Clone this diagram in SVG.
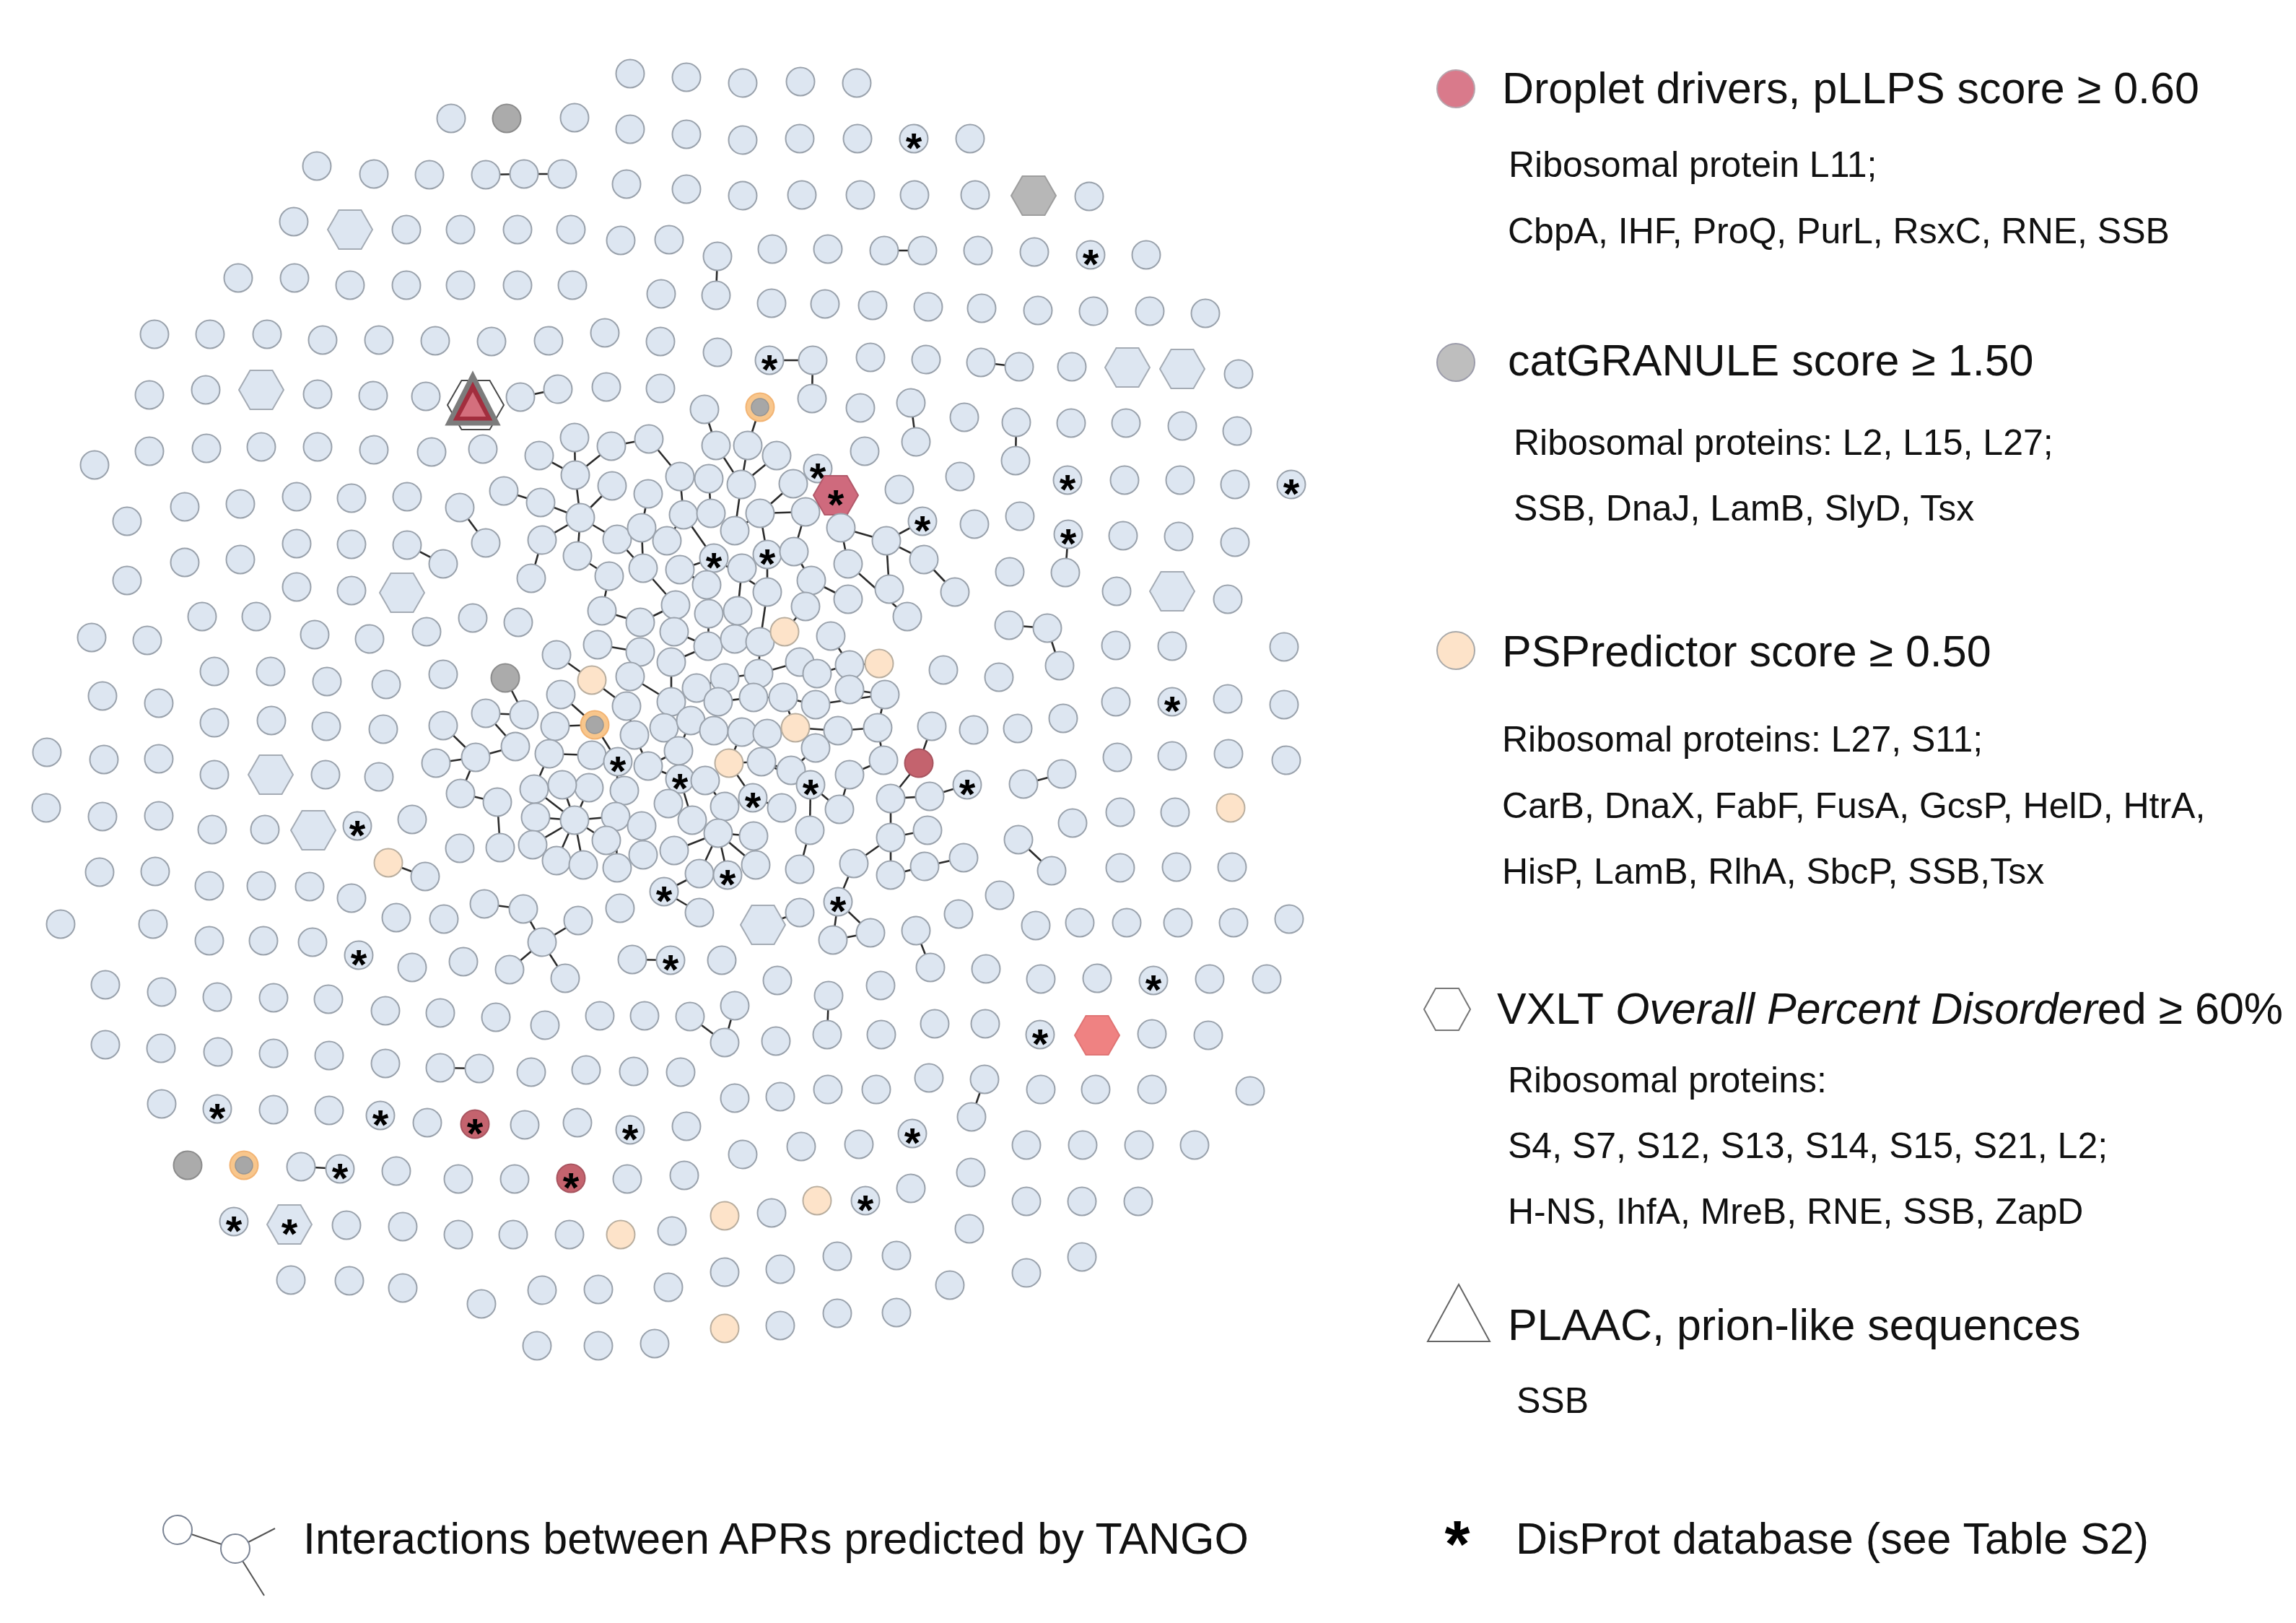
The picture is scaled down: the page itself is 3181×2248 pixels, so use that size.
<svg xmlns="http://www.w3.org/2000/svg" xmlns:xlink="http://www.w3.org/1999/xlink" width="3181" height="2248" viewBox="0 0 3181 2248">
<style>
.b{fill:#DDE6F1;stroke:#9AA2AC;stroke-width:2}
.g{fill:#ABABAB;stroke:#8C8C8C;stroke-width:2}
.o{fill:#FDE3C9;stroke:#B9AE9F;stroke-width:2}
.oo{fill:#F8C68C;stroke:#F2B474;stroke-width:2}
.oi{fill:#A7A7A7;stroke:#959595;stroke-width:1.5}
.r{fill:#C4636E;stroke:#A85560;stroke-width:2}
.hb{fill:#DDE6F1;stroke:#A4ABB4;stroke-width:2}
.gh{fill:#B7B7B7;stroke:#9E9E9E;stroke-width:2}
.rh{fill:#CF6A7D;stroke:#B25A6B;stroke-width:2}
.sh{fill:#EF8282;stroke:#E07575;stroke-width:2}
.a{font-family:"Liberation Sans",Arial,sans-serif;font-weight:bold;font-size:58px;fill:#000;text-anchor:middle;transform:translateY(6px)}
.t{font-family:"Liberation Sans",Arial,sans-serif;font-size:61px;fill:#111}
.s{font-family:"Liberation Sans",Arial,sans-serif;font-size:50px;fill:#111}
#connectors line{stroke:#2B2B2B;stroke-width:2.6}
</style>
<defs>
<circle id="c" cx="0" cy="0" r="19.5"/>
<polygon id="h" points="-31,0 -15.5,-27 15.5,-27 31,0 15.5,27 -15.5,27"/>
</defs>
<rect width="3181" height="2248" fill="#fff"/>
<g id="connectors">
<line x1="673" y1="242" x2="726" y2="241"/><line x1="726" y1="241" x2="779" y2="241"/>
<line x1="994" y1="355" x2="992" y2="409"/><line x1="1225" y1="347" x2="1278" y2="347"/>
<line x1="1066" y1="499" x2="1126" y2="499"/><line x1="1126" y1="499" x2="1125" y2="552"/>
<line x1="1359" y1="502" x2="1412" y2="508"/><line x1="721" y1="550" x2="773" y2="539"/>
<line x1="976" y1="567" x2="992" y2="617"/><line x1="1053" y1="564" x2="1036" y2="617"/>
<line x1="1262" y1="558" x2="1269" y2="612"/><line x1="1408" y1="585" x2="1407" y2="638"/>
<line x1="564" y1="755" x2="614" y2="781"/><line x1="538" y1="1195" x2="589" y2="1214"/>
<line x1="610" y1="1479" x2="664" y2="1480"/><line x1="417" y1="1616" x2="471" y2="1619"/>
<line x1="751" y1="1305" x2="725" y2="1259"/><line x1="751" y1="1305" x2="801" y2="1275"/>
<line x1="751" y1="1305" x2="706" y2="1343"/><line x1="751" y1="1305" x2="783" y2="1355"/>
<line x1="671" y1="1252" x2="725" y2="1259"/>
<line x1="876" y1="1329" x2="929" y2="1330"/><line x1="1148" y1="1379" x2="1146" y2="1433"/>
<line x1="956" y1="1408" x2="1004" y2="1444"/><line x1="1004" y1="1444" x2="1018" y2="1393"/>
<line x1="1057" y1="1281" x2="1108" y2="1264"/><line x1="1161" y1="1249" x2="1154" y2="1302"/>
<line x1="1154" y1="1302" x2="1206" y2="1292"/><line x1="1161" y1="1249" x2="1206" y2="1292"/>
<line x1="1269" y1="1289" x2="1289" y2="1340"/><line x1="1364" y1="1495" x2="1346" y2="1547"/>
<line x1="1280" y1="775" x2="1323" y2="820"/><line x1="1280" y1="775" x2="1228" y2="749"/>
<line x1="1278" y1="722" x2="1228" y2="749"/><line x1="1480" y1="740" x2="1476" y2="793"/>
<line x1="1398" y1="866" x2="1451" y2="870"/><line x1="1451" y1="870" x2="1468" y2="922"/>
<line x1="1291" y1="1006" x2="1273" y2="1057"/><line x1="1273" y1="1057" x2="1234" y2="1106"/>
<line x1="1234" y1="1106" x2="1288" y2="1103"/><line x1="1288" y1="1103" x2="1340" y2="1087"/>
<line x1="1418" y1="1086" x2="1471" y2="1072"/><line x1="1411" y1="1163" x2="1457" y2="1206"/>
<line x1="1234" y1="1160" x2="1285" y2="1150"/><line x1="1234" y1="1212" x2="1281" y2="1200"/>
<line x1="1281" y1="1200" x2="1335" y2="1188"/><line x1="614" y1="1005" x2="659" y2="1049"/>
<line x1="604" y1="1057" x2="659" y2="1049"/><line x1="637" y1="703" x2="673" y2="752"/>
<line x1="992" y1="617" x2="1027" y2="671"/><line x1="1036" y1="617" x2="1027" y2="671"/>
<line x1="1076" y1="631" x2="1027" y2="671"/><line x1="796" y1="606" x2="797" y2="658"/>
<line x1="747" y1="631" x2="797" y2="658"/><line x1="847" y1="618" x2="797" y2="658"/>
<line x1="847" y1="618" x2="899" y2="608"/><line x1="899" y1="608" x2="942" y2="660"/>
<line x1="1133" y1="649" x2="1099" y2="670"/>
<line x1="698" y1="680" x2="749" y2="696"/><line x1="749" y1="696" x2="804" y2="717"/>
<line x1="804" y1="717" x2="797" y2="658"/><line x1="804" y1="717" x2="848" y2="673"/>
<line x1="804" y1="717" x2="751" y2="748"/><line x1="804" y1="717" x2="800" y2="770"/>
<line x1="804" y1="717" x2="855" y2="747"/><line x1="751" y1="748" x2="736" y2="801"/>
<line x1="855" y1="747" x2="891" y2="787"/><line x1="889" y1="731" x2="898" y2="684"/>
<line x1="889" y1="731" x2="891" y2="787"/><line x1="924" y1="749" x2="947" y2="713"/>
<line x1="947" y1="713" x2="942" y2="660"/><line x1="985" y1="711" x2="982" y2="663"/>
<line x1="947" y1="713" x2="989" y2="773"/><line x1="1018" y1="735" x2="1027" y2="671"/>
<line x1="1053" y1="711" x2="1099" y2="670"/><line x1="1053" y1="711" x2="1116" y2="709"/>
<line x1="1116" y1="709" x2="1158" y2="686"/><line x1="1158" y1="686" x2="1165" y2="731"/>
<line x1="1165" y1="731" x2="1228" y2="749"/><line x1="1165" y1="731" x2="1175" y2="781"/>
<line x1="1228" y1="749" x2="1232" y2="816"/><line x1="989" y1="773" x2="1063" y2="820"/>
<line x1="1063" y1="768" x2="1063" y2="820"/><line x1="1100" y1="764" x2="1124" y2="804"/>
<line x1="1124" y1="804" x2="1175" y2="830"/><line x1="1063" y1="820" x2="1053" y2="889"/>
<line x1="891" y1="787" x2="936" y2="838"/><line x1="942" y1="789" x2="989" y2="773"/>
<line x1="936" y1="838" x2="887" y2="862"/><line x1="834" y1="846" x2="887" y2="862"/>
<line x1="934" y1="875" x2="981" y2="895"/><line x1="771" y1="907" x2="820" y2="942"/>
<line x1="820" y1="942" x2="868" y2="978"/><line x1="700" y1="939" x2="726" y2="990"/>
<line x1="673" y1="988" x2="726" y2="990"/><line x1="673" y1="988" x2="714" y2="1034"/>
<line x1="769" y1="1006" x2="824" y2="1004"/><line x1="777" y1="962" x2="824" y2="1004"/>
<line x1="824" y1="1004" x2="856" y2="1055"/><line x1="761" y1="1044" x2="820" y2="1046"/>
<line x1="659" y1="1049" x2="714" y2="1034"/><line x1="659" y1="1049" x2="638" y2="1099"/>
<line x1="856" y1="1055" x2="853" y2="1131"/>
<line x1="796" y1="1136" x2="779" y2="1087"/><line x1="796" y1="1136" x2="740" y2="1093"/>
<line x1="796" y1="1136" x2="742" y2="1132"/><line x1="796" y1="1136" x2="738" y2="1170"/>
<line x1="796" y1="1136" x2="771" y2="1192"/><line x1="796" y1="1136" x2="808" y2="1198"/>
<line x1="796" y1="1136" x2="853" y2="1131"/><line x1="796" y1="1136" x2="840" y2="1164"/>
<line x1="796" y1="1136" x2="816" y2="1091"/>
<line x1="853" y1="1131" x2="855" y2="1202"/><line x1="853" y1="1131" x2="889" y2="1144"/>
<line x1="898" y1="1061" x2="942" y2="1079"/><line x1="942" y1="1079" x2="959" y2="1136"/>
<line x1="995" y1="1154" x2="926" y2="1113"/><line x1="995" y1="1154" x2="1004" y2="1117"/>
<line x1="995" y1="1154" x2="959" y2="1136"/><line x1="995" y1="1154" x2="969" y2="1210"/>
<line x1="995" y1="1154" x2="1008" y2="1212"/><line x1="995" y1="1154" x2="1047" y2="1198"/>
<line x1="995" y1="1154" x2="1044" y2="1158"/><line x1="995" y1="1154" x2="934" y2="1178"/>
<line x1="1043" y1="1105" x2="1083" y2="1119"/><line x1="1123" y1="1087" x2="1163" y2="1121"/>
<line x1="1123" y1="1087" x2="1122" y2="1150"/><line x1="1123" y1="1087" x2="1055" y2="1055"/>
<line x1="1234" y1="1106" x2="1234" y2="1160"/><line x1="1234" y1="1160" x2="1234" y2="1212"/>
<line x1="1234" y1="1160" x2="1183" y2="1196"/><line x1="1183" y1="1196" x2="1161" y2="1249"/>
<line x1="1122" y1="1150" x2="1108" y2="1204"/><line x1="920" y1="1235" x2="969" y2="1210"/>
<line x1="920" y1="1235" x2="969" y2="1264"/>
<line x1="873" y1="937" x2="930" y2="972"/><line x1="930" y1="972" x2="965" y2="953"/>
<line x1="965" y1="953" x2="1004" y2="939"/><line x1="1004" y1="939" x2="1051" y2="933"/>
<line x1="930" y1="917" x2="930" y2="972"/><line x1="981" y1="895" x2="930" y2="917"/>
<line x1="982" y1="850" x2="981" y2="895"/><line x1="1022" y1="846" x2="1018" y2="885"/>
<line x1="1018" y1="885" x2="1053" y2="889"/><line x1="1053" y1="889" x2="1051" y2="933"/>
<line x1="1051" y1="933" x2="1108" y2="917"/><line x1="1132" y1="933" x2="1177" y2="921"/>
<line x1="1177" y1="921" x2="1177" y2="955"/><line x1="1177" y1="955" x2="1226" y2="962"/>
<line x1="1226" y1="962" x2="1216" y2="1008"/><line x1="1177" y1="921" x2="1218" y2="919"/>
<line x1="1151" y1="881" x2="1177" y2="921"/><line x1="1130" y1="976" x2="1085" y2="966"/>
<line x1="1085" y1="966" x2="1044" y2="966"/><line x1="1044" y1="966" x2="995" y2="972"/>
<line x1="1051" y1="933" x2="1044" y2="966"/><line x1="1085" y1="966" x2="1102" y2="1008"/>
<line x1="1102" y1="1008" x2="1161" y2="1012"/><line x1="1161" y1="1012" x2="1130" y2="1036"/>
<line x1="1130" y1="1036" x2="1096" y2="1067"/><line x1="989" y1="1012" x2="1028" y2="1014"/>
<line x1="1028" y1="1014" x2="1063" y2="1016"/><line x1="957" y1="998" x2="989" y2="1012"/>
<line x1="920" y1="1008" x2="957" y2="998"/><line x1="868" y1="978" x2="879" y2="1018"/>
<line x1="879" y1="1018" x2="898" y2="1061"/><line x1="898" y1="1061" x2="940" y2="1040"/>
<line x1="940" y1="1040" x2="957" y2="998"/><line x1="942" y1="1079" x2="977" y2="1081"/>
<line x1="977" y1="1081" x2="1004" y2="1117"/><line x1="1010" y1="1057" x2="1055" y2="1055"/>
<line x1="1055" y1="1055" x2="1096" y2="1067"/><line x1="1028" y1="1014" x2="1010" y2="1057"/>
<line x1="1010" y1="1057" x2="1043" y2="1105"/><line x1="1043" y1="1105" x2="1004" y2="1117"/>
<line x1="1116" y1="709" x2="1100" y2="764"/><line x1="1053" y1="711" x2="1063" y2="768"/>
<line x1="1116" y1="840" x2="1087" y2="875"/><line x1="1161" y1="1012" x2="1216" y2="1008"/>
<line x1="1216" y1="1008" x2="1224" y2="1053"/><line x1="1177" y1="1073" x2="1224" y2="1053"/>
<line x1="1177" y1="1073" x2="1163" y2="1121"/><line x1="800" y1="770" x2="844" y2="798"/>
<line x1="834" y1="846" x2="844" y2="798"/><line x1="828" y1="893" x2="887" y2="903"/>
<line x1="887" y1="903" x2="873" y2="937"/><line x1="979" y1="810" x2="942" y2="789"/>
<line x1="1018" y1="735" x2="1053" y2="711"/><line x1="1130" y1="976" x2="1226" y2="962"/>
<line x1="1175" y1="781" x2="1257" y2="854"/><line x1="1028" y1="787" x2="1022" y2="846"/>
<line x1="689" y1="1111" x2="693" y2="1174"/><line x1="638" y1="1099" x2="689" y2="1111"/>
<line x1="740" y1="1093" x2="761" y2="1044"/><line x1="1044" y1="1158" x2="1047" y2="1198"/>
</g>
<g id="nodes">
<g id="n1"><use href="#c" class="b" x="873" y="102"/></g>
<g id="n2"><use href="#c" class="b" x="951" y="107"/></g>
<g id="n3"><use href="#c" class="b" x="1029" y="115"/></g>
<g id="n4"><use href="#c" class="b" x="1109" y="113"/></g>
<g id="n5"><use href="#c" class="b" x="1187" y="115"/></g>
<g id="n6"><use href="#c" class="b" x="625" y="164"/></g>
<g id="n7"><use href="#c" class="g" x="702" y="164"/></g>
<g id="n8"><use href="#c" class="b" x="796" y="163"/></g>
<g id="n9"><use href="#c" class="b" x="873" y="179"/></g>
<g id="n10"><use href="#c" class="b" x="951" y="186"/></g>
<g id="n11"><use href="#c" class="b" x="1029" y="194"/></g>
<g id="n12"><use href="#c" class="b" x="1108" y="192"/></g>
<g id="n13"><use href="#c" class="b" x="1188" y="192"/></g>
<g id="n14"><use href="#c" class="b" x="1266" y="192"/><text class="a" x="1266" y="219">*</text></g>
<g id="n15"><use href="#c" class="b" x="1344" y="192"/></g>
<g id="n16"><use href="#c" class="b" x="439" y="230"/></g>
<g id="n17"><use href="#c" class="b" x="518" y="241"/></g>
<g id="n18"><use href="#c" class="b" x="595" y="242"/></g>
<g id="n19"><use href="#c" class="b" x="673" y="242"/></g>
<g id="n20"><use href="#c" class="b" x="726" y="241"/></g>
<g id="n21"><use href="#c" class="b" x="779" y="241"/></g>
<g id="n22"><use href="#c" class="b" x="868" y="255"/></g>
<g id="n23"><use href="#c" class="b" x="951" y="262"/></g>
<g id="n24"><use href="#c" class="b" x="1029" y="271"/></g>
<g id="n25"><use href="#c" class="b" x="1111" y="270"/></g>
<g id="n26"><use href="#c" class="b" x="1192" y="270"/></g>
<g id="n27"><use href="#c" class="b" x="1267" y="270"/></g>
<g id="n28"><use href="#c" class="b" x="1351" y="270"/></g>
<g id="n29"><use href="#h" class="gh" x="1432" y="271"/></g>
<g id="n30"><use href="#c" class="b" x="1509" y="272"/></g>
<g id="n31"><use href="#c" class="b" x="407" y="307"/></g>
<g id="n32"><use href="#h" class="hb" x="485" y="318"/></g>
<g id="n33"><use href="#c" class="b" x="563" y="318"/></g>
<g id="n34"><use href="#c" class="b" x="638" y="318"/></g>
<g id="n35"><use href="#c" class="b" x="717" y="318"/></g>
<g id="n36"><use href="#c" class="b" x="791" y="318"/></g>
<g id="n37"><use href="#c" class="b" x="860" y="333"/></g>
<g id="n38"><use href="#c" class="b" x="927" y="332"/></g>
<g id="n39"><use href="#c" class="b" x="994" y="355"/></g>
<g id="n40"><use href="#c" class="b" x="992" y="409"/></g>
<g id="n41"><use href="#c" class="b" x="1070" y="345"/></g>
<g id="n42"><use href="#c" class="b" x="1147" y="345"/></g>
<g id="n43"><use href="#c" class="b" x="1225" y="347"/></g>
<g id="n44"><use href="#c" class="b" x="1278" y="347"/></g>
<g id="n45"><use href="#c" class="b" x="1355" y="347"/></g>
<g id="n46"><use href="#c" class="b" x="1433" y="349"/></g>
<g id="n47"><use href="#c" class="b" x="1511" y="353"/><text class="a" x="1511" y="380">*</text></g>
<g id="n48"><use href="#c" class="b" x="1588" y="353"/></g>
<g id="n49"><use href="#c" class="b" x="330" y="385"/></g>
<g id="n50"><use href="#c" class="b" x="408" y="385"/></g>
<g id="n51"><use href="#c" class="b" x="485" y="395"/></g>
<g id="n52"><use href="#c" class="b" x="563" y="395"/></g>
<g id="n53"><use href="#c" class="b" x="638" y="395"/></g>
<g id="n54"><use href="#c" class="b" x="717" y="395"/></g>
<g id="n55"><use href="#c" class="b" x="793" y="395"/></g>
<g id="n56"><use href="#c" class="b" x="916" y="407"/></g>
<g id="n57"><use href="#c" class="b" x="1069" y="420"/></g>
<g id="n58"><use href="#c" class="b" x="1143" y="421"/></g>
<g id="n59"><use href="#c" class="b" x="1209" y="423"/></g>
<g id="n60"><use href="#c" class="b" x="1286" y="425"/></g>
<g id="n61"><use href="#c" class="b" x="1360" y="427"/></g>
<g id="n62"><use href="#c" class="b" x="1438" y="430"/></g>
<g id="n63"><use href="#c" class="b" x="1515" y="431"/></g>
<g id="n64"><use href="#c" class="b" x="1593" y="431"/></g>
<g id="n65"><use href="#c" class="b" x="1670" y="434"/></g>
<g id="n66"><use href="#c" class="b" x="214" y="463"/></g>
<g id="n67"><use href="#c" class="b" x="291" y="463"/></g>
<g id="n68"><use href="#c" class="b" x="370" y="463"/></g>
<g id="n69"><use href="#c" class="b" x="447" y="471"/></g>
<g id="n70"><use href="#c" class="b" x="525" y="471"/></g>
<g id="n71"><use href="#c" class="b" x="603" y="472"/></g>
<g id="n72"><use href="#c" class="b" x="681" y="473"/></g>
<g id="n73"><use href="#c" class="b" x="760" y="472"/></g>
<g id="n74"><use href="#c" class="b" x="838" y="461"/></g>
<g id="n75"><use href="#c" class="b" x="915" y="473"/></g>
<g id="n76"><use href="#c" class="b" x="994" y="488"/></g>
<g id="n77"><use href="#c" class="b" x="1066" y="499"/><text class="a" x="1066" y="526">*</text></g>
<g id="n78"><use href="#c" class="b" x="1126" y="499"/></g>
<g id="n79"><use href="#c" class="b" x="1125" y="552"/></g>
<g id="n80"><use href="#c" class="b" x="1206" y="495"/></g>
<g id="n81"><use href="#c" class="b" x="1283" y="498"/></g>
<g id="n82"><use href="#c" class="b" x="1359" y="502"/></g>
<g id="n83"><use href="#c" class="b" x="1412" y="508"/></g>
<g id="n84"><use href="#c" class="b" x="1485" y="508"/></g>
<g id="n85"><use href="#h" class="hb" x="1562" y="509"/></g>
<g id="n86"><use href="#h" class="hb" x="1638" y="511"/></g>
<g id="n87"><use href="#c" class="b" x="1716" y="518"/></g>
<g id="n88"><use href="#c" class="b" x="207" y="547"/></g>
<g id="n89"><use href="#c" class="b" x="285" y="540"/></g>
<g id="n90"><use href="#h" class="hb" x="362" y="540"/></g>
<g id="n91"><use href="#c" class="b" x="440" y="546"/></g>
<g id="n92"><use href="#c" class="b" x="517" y="548"/></g>
<g id="n93"><use href="#c" class="b" x="590" y="549"/></g>
<g id="n94"><polygon points="620,561 639.5,527 678.5,527 698,561 678.5,595 639.5,595" fill="none" stroke="#4A4A4A" stroke-width="2"/><polygon points="655,521 688,586 622,586" fill="#A22E3E" stroke="#7C7C7C" stroke-width="7" stroke-linejoin="miter"/><polygon points="655,543 673,577 637,577" fill="#D46F7D"/></g>
<g id="n95"><use href="#c" class="b" x="721" y="550"/></g>
<g id="n96"><use href="#c" class="b" x="773" y="539"/></g>
<g id="n97"><use href="#c" class="b" x="840" y="536"/></g>
<g id="n98"><use href="#c" class="b" x="915" y="538"/></g>
<g id="n99"><use href="#c" class="b" x="976" y="567"/></g>
<g id="n100"><use href="#c" class="oo" x="1053" y="564"/><circle class="oi" cx="1053" cy="564" r="12"/></g>
<g id="n101"><use href="#c" class="b" x="1192" y="565"/></g>
<g id="n102"><use href="#c" class="b" x="1262" y="558"/></g>
<g id="n103"><use href="#c" class="b" x="1269" y="612"/></g>
<g id="n104"><use href="#c" class="b" x="1336" y="578"/></g>
<g id="n105"><use href="#c" class="b" x="1408" y="585"/></g>
<g id="n106"><use href="#c" class="b" x="1407" y="638"/></g>
<g id="n107"><use href="#c" class="b" x="1484" y="586"/></g>
<g id="n108"><use href="#c" class="b" x="1560" y="586"/></g>
<g id="n109"><use href="#c" class="b" x="1638" y="590"/></g>
<g id="n110"><use href="#c" class="b" x="1714" y="597"/></g>
<g id="n111"><use href="#c" class="b" x="131" y="644"/></g>
<g id="n112"><use href="#c" class="b" x="207" y="625"/></g>
<g id="n113"><use href="#c" class="b" x="286" y="621"/></g>
<g id="n114"><use href="#c" class="b" x="362" y="619"/></g>
<g id="n115"><use href="#c" class="b" x="440" y="619"/></g>
<g id="n116"><use href="#c" class="b" x="518" y="623"/></g>
<g id="n117"><use href="#c" class="b" x="598" y="626"/></g>
<g id="n118"><use href="#c" class="b" x="669" y="622"/></g>
<g id="n119"><use href="#c" class="b" x="1330" y="660"/></g>
<g id="n120"><use href="#c" class="b" x="1246" y="678"/></g>
<g id="n121"><use href="#c" class="b" x="1479" y="665"/><text class="a" x="1479" y="692">*</text></g>
<g id="n122"><use href="#c" class="b" x="1558" y="665"/></g>
<g id="n123"><use href="#c" class="b" x="1635" y="665"/></g>
<g id="n124"><use href="#c" class="b" x="1711" y="671"/></g>
<g id="n125"><use href="#c" class="b" x="1789" y="671"/><text class="a" x="1789" y="698">*</text></g>
<g id="n126"><use href="#c" class="b" x="796" y="606"/></g>
<g id="n127"><use href="#c" class="b" x="747" y="631"/></g>
<g id="n128"><use href="#c" class="b" x="847" y="618"/></g>
<g id="n129"><use href="#c" class="b" x="899" y="608"/></g>
<g id="n130"><use href="#c" class="b" x="992" y="617"/></g>
<g id="n131"><use href="#c" class="b" x="1036" y="617"/></g>
<g id="n132"><use href="#c" class="b" x="1076" y="631"/></g>
<g id="n133"><use href="#c" class="b" x="1133" y="649"/><text class="a" x="1133" y="676">*</text></g>
<g id="n134"><use href="#c" class="b" x="1198" y="625"/></g>
<g id="n135"><use href="#c" class="b" x="698" y="680"/></g>
<g id="n136"><use href="#c" class="b" x="749" y="696"/></g>
<g id="n137"><use href="#c" class="b" x="804" y="717"/></g>
<g id="n138"><use href="#c" class="b" x="848" y="673"/></g>
<g id="n139"><use href="#c" class="b" x="797" y="658"/></g>
<g id="n140"><use href="#c" class="b" x="637" y="703"/></g>
<g id="n141"><use href="#c" class="b" x="673" y="752"/></g>
<g id="n142"><use href="#c" class="b" x="751" y="748"/></g>
<g id="n143"><use href="#c" class="b" x="800" y="770"/></g>
<g id="n144"><use href="#c" class="b" x="736" y="801"/></g>
<g id="n145"><use href="#c" class="b" x="855" y="747"/></g>
<g id="n146"><use href="#c" class="b" x="889" y="731"/></g>
<g id="n147"><use href="#c" class="b" x="898" y="684"/></g>
<g id="n148"><use href="#c" class="b" x="924" y="749"/></g>
<g id="n149"><use href="#c" class="b" x="844" y="798"/></g>
<g id="n150"><use href="#c" class="b" x="891" y="787"/></g>
<g id="n151"><use href="#c" class="b" x="947" y="713"/></g>
<g id="n152"><use href="#c" class="b" x="985" y="711"/></g>
<g id="n153"><use href="#c" class="b" x="1018" y="735"/></g>
<g id="n154"><use href="#c" class="b" x="982" y="663"/></g>
<g id="n155"><use href="#c" class="b" x="942" y="660"/></g>
<g id="n156"><use href="#c" class="b" x="1027" y="671"/></g>
<g id="n157"><use href="#c" class="b" x="1053" y="711"/></g>
<g id="n158"><use href="#c" class="b" x="1099" y="670"/></g>
<g id="n159"><use href="#c" class="b" x="1116" y="709"/></g>
<g id="n160"><use href="#h" class="rh" x="1158" y="686"/><text class="a" x="1158" y="713">*</text></g>
<g id="n161"><use href="#c" class="b" x="1165" y="731"/></g>
<g id="n162"><use href="#c" class="b" x="1228" y="749"/></g>
<g id="n163"><use href="#c" class="b" x="1175" y="781"/></g>
<g id="n164"><use href="#c" class="b" x="1232" y="816"/></g>
<g id="n165"><use href="#c" class="b" x="1175" y="830"/></g>
<g id="n166"><use href="#c" class="b" x="1257" y="854"/></g>
<g id="n167"><use href="#c" class="b" x="989" y="773"/><text class="a" x="989" y="800">*</text></g>
<g id="n168"><use href="#c" class="b" x="1063" y="768"/><text class="a" x="1063" y="795">*</text></g>
<g id="n169"><use href="#c" class="b" x="1100" y="764"/></g>
<g id="n170"><use href="#c" class="b" x="1028" y="787"/></g>
<g id="n171"><use href="#c" class="b" x="1124" y="804"/></g>
<g id="n172"><use href="#c" class="b" x="1063" y="820"/></g>
<g id="n173"><use href="#c" class="b" x="1116" y="840"/></g>
<g id="n174"><use href="#c" class="b" x="979" y="810"/></g>
<g id="n175"><use href="#c" class="b" x="942" y="789"/></g>
<g id="n176"><use href="#c" class="b" x="936" y="838"/></g>
<g id="n177"><use href="#c" class="b" x="982" y="850"/></g>
<g id="n178"><use href="#c" class="b" x="1022" y="846"/></g>
<g id="n179"><use href="#c" class="b" x="834" y="846"/></g>
<g id="n180"><use href="#c" class="b" x="887" y="862"/></g>
<g id="n181"><use href="#c" class="b" x="934" y="875"/></g>
<g id="n182"><use href="#c" class="b" x="981" y="895"/></g>
<g id="n183"><use href="#c" class="b" x="1018" y="885"/></g>
<g id="n184"><use href="#c" class="b" x="1053" y="889"/></g>
<g id="n185"><use href="#c" class="o" x="1087" y="875"/></g>
<g id="n186"><use href="#c" class="b" x="1151" y="881"/></g>
<g id="n187"><use href="#c" class="b" x="828" y="893"/></g>
<g id="n188"><use href="#c" class="b" x="887" y="903"/></g>
<g id="n189"><use href="#c" class="b" x="930" y="917"/></g>
<g id="n190"><use href="#c" class="b" x="771" y="907"/></g>
<g id="n191"><use href="#c" class="o" x="820" y="942"/></g>
<g id="n192"><use href="#c" class="g" x="700" y="939"/></g>
<g id="n193"><use href="#c" class="b" x="873" y="937"/></g>
<g id="n194"><use href="#c" class="b" x="930" y="972"/></g>
<g id="n195"><use href="#c" class="b" x="965" y="953"/></g>
<g id="n196"><use href="#c" class="b" x="1004" y="939"/></g>
<g id="n197"><use href="#c" class="b" x="1051" y="933"/></g>
<g id="n198"><use href="#c" class="b" x="1108" y="917"/></g>
<g id="n199"><use href="#c" class="b" x="1132" y="933"/></g>
<g id="n200"><use href="#c" class="b" x="1177" y="921"/></g>
<g id="n201"><use href="#c" class="o" x="1218" y="919"/></g>
<g id="n202"><use href="#c" class="b" x="1177" y="955"/></g>
<g id="n203"><use href="#c" class="b" x="1226" y="962"/></g>
<g id="n204"><use href="#c" class="b" x="1130" y="976"/></g>
<g id="n205"><use href="#c" class="b" x="1085" y="966"/></g>
<g id="n206"><use href="#c" class="b" x="1044" y="966"/></g>
<g id="n207"><use href="#c" class="b" x="995" y="972"/></g>
<g id="n208"><use href="#c" class="b" x="777" y="962"/></g>
<g id="n209"><use href="#c" class="b" x="673" y="988"/></g>
<g id="n210"><use href="#c" class="b" x="726" y="990"/></g>
<g id="n211"><use href="#c" class="oo" x="824" y="1004"/><circle class="oi" cx="824" cy="1004" r="12"/></g>
<g id="n212"><use href="#c" class="b" x="769" y="1006"/></g>
<g id="n213"><use href="#c" class="b" x="868" y="978"/></g>
<g id="n214"><use href="#c" class="b" x="879" y="1018"/></g>
<g id="n215"><use href="#c" class="b" x="920" y="1008"/></g>
<g id="n216"><use href="#c" class="b" x="957" y="998"/></g>
<g id="n217"><use href="#c" class="b" x="989" y="1012"/></g>
<g id="n218"><use href="#c" class="b" x="1028" y="1014"/></g>
<g id="n219"><use href="#c" class="b" x="1063" y="1016"/></g>
<g id="n220"><use href="#c" class="o" x="1102" y="1008"/></g>
<g id="n221"><use href="#c" class="b" x="1161" y="1012"/></g>
<g id="n222"><use href="#c" class="b" x="1216" y="1008"/></g>
<g id="n223"><use href="#c" class="b" x="1130" y="1036"/></g>
<g id="n224"><use href="#c" class="b" x="714" y="1034"/></g>
<g id="n225"><use href="#c" class="b" x="761" y="1044"/></g>
<g id="n226"><use href="#c" class="b" x="820" y="1046"/></g>
<g id="n227"><use href="#c" class="b" x="856" y="1055"/><text class="a" x="856" y="1082">*</text></g>
<g id="n228"><use href="#c" class="b" x="898" y="1061"/></g>
<g id="n229"><use href="#c" class="b" x="940" y="1040"/></g>
<g id="n230"><use href="#c" class="o" x="1010" y="1057"/></g>
<g id="n231"><use href="#c" class="b" x="1055" y="1055"/></g>
<g id="n232"><use href="#c" class="b" x="1096" y="1067"/></g>
<g id="n233"><use href="#c" class="b" x="659" y="1049"/></g>
<g id="n234"><use href="#c" class="b" x="942" y="1079"/><text class="a" x="942" y="1106">*</text></g>
<g id="n235"><use href="#c" class="b" x="977" y="1081"/></g>
<g id="n236"><use href="#c" class="b" x="1123" y="1087"/><text class="a" x="1123" y="1114">*</text></g>
<g id="n237"><use href="#c" class="b" x="1177" y="1073"/></g>
<g id="n238"><use href="#c" class="b" x="1224" y="1053"/></g>
<g id="n239"><use href="#c" class="r" x="1273" y="1057"/></g>
<g id="n240"><use href="#c" class="b" x="1234" y="1106"/></g>
<g id="n241"><use href="#c" class="b" x="1163" y="1121"/></g>
<g id="n242"><use href="#c" class="b" x="1043" y="1105"/><text class="a" x="1043" y="1132">*</text></g>
<g id="n243"><use href="#c" class="b" x="1083" y="1119"/></g>
<g id="n244"><use href="#c" class="b" x="1004" y="1117"/></g>
<g id="n245"><use href="#c" class="b" x="959" y="1136"/></g>
<g id="n246"><use href="#c" class="b" x="926" y="1113"/></g>
<g id="n247"><use href="#c" class="b" x="865" y="1095"/></g>
<g id="n248"><use href="#c" class="b" x="816" y="1091"/></g>
<g id="n249"><use href="#c" class="b" x="779" y="1087"/></g>
<g id="n250"><use href="#c" class="b" x="740" y="1093"/></g>
<g id="n251"><use href="#c" class="b" x="689" y="1111"/></g>
<g id="n252"><use href="#c" class="b" x="638" y="1099"/></g>
<g id="n253"><use href="#c" class="b" x="742" y="1132"/></g>
<g id="n254"><use href="#c" class="b" x="796" y="1136"/></g>
<g id="n255"><use href="#c" class="b" x="853" y="1131"/></g>
<g id="n256"><use href="#c" class="b" x="889" y="1144"/></g>
<g id="n257"><use href="#c" class="b" x="995" y="1154"/></g>
<g id="n258"><use href="#c" class="b" x="1044" y="1158"/></g>
<g id="n259"><use href="#c" class="b" x="1122" y="1150"/></g>
<g id="n260"><use href="#c" class="b" x="1234" y="1160"/></g>
<g id="n261"><use href="#c" class="b" x="738" y="1170"/></g>
<g id="n262"><use href="#c" class="b" x="693" y="1174"/></g>
<g id="n263"><use href="#c" class="b" x="637" y="1175"/></g>
<g id="n264"><use href="#c" class="b" x="771" y="1192"/></g>
<g id="n265"><use href="#c" class="b" x="808" y="1198"/></g>
<g id="n266"><use href="#c" class="b" x="840" y="1164"/></g>
<g id="n267"><use href="#c" class="b" x="855" y="1202"/></g>
<g id="n268"><use href="#c" class="b" x="891" y="1184"/></g>
<g id="n269"><use href="#c" class="b" x="934" y="1178"/></g>
<g id="n270"><use href="#c" class="b" x="969" y="1210"/></g>
<g id="n271"><use href="#c" class="b" x="1008" y="1212"/><text class="a" x="1008" y="1239">*</text></g>
<g id="n272"><use href="#c" class="b" x="1047" y="1198"/></g>
<g id="n273"><use href="#c" class="b" x="1108" y="1204"/></g>
<g id="n274"><use href="#c" class="b" x="1183" y="1196"/></g>
<g id="n275"><use href="#c" class="b" x="1234" y="1212"/></g>
<g id="n276"><use href="#c" class="b" x="920" y="1235"/><text class="a" x="920" y="1262">*</text></g>
<g id="n277"><use href="#c" class="b" x="969" y="1264"/></g>
<g id="n278"><use href="#c" class="b" x="859" y="1258"/></g>
<g id="n279"><use href="#c" class="b" x="1161" y="1249"/><text class="a" x="1161" y="1276">*</text></g>
<g id="n280"><use href="#c" class="b" x="1108" y="1264"/></g>
<g id="n281"><use href="#c" class="b" x="671" y="1252"/></g>
<g id="n282"><use href="#c" class="b" x="725" y="1259"/></g>
<g id="n283"><use href="#c" class="b" x="801" y="1275"/></g>
<g id="n284"><use href="#c" class="b" x="655" y="856"/></g>
<g id="n285"><use href="#c" class="b" x="718" y="862"/></g>
<g id="n286"><use href="#c" class="b" x="176" y="722"/></g>
<g id="n287"><use href="#c" class="b" x="256" y="702"/></g>
<g id="n288"><use href="#c" class="b" x="333" y="698"/></g>
<g id="n289"><use href="#c" class="b" x="411" y="688"/></g>
<g id="n290"><use href="#c" class="b" x="487" y="690"/></g>
<g id="n291"><use href="#c" class="b" x="564" y="688"/></g>
<g id="n292"><use href="#c" class="b" x="411" y="753"/></g>
<g id="n293"><use href="#c" class="b" x="487" y="754"/></g>
<g id="n294"><use href="#c" class="b" x="564" y="755"/></g>
<g id="n295"><use href="#c" class="b" x="614" y="781"/></g>
<g id="n296"><use href="#c" class="b" x="176" y="804"/></g>
<g id="n297"><use href="#c" class="b" x="256" y="779"/></g>
<g id="n298"><use href="#c" class="b" x="333" y="775"/></g>
<g id="n299"><use href="#c" class="b" x="411" y="813"/></g>
<g id="n300"><use href="#c" class="b" x="487" y="818"/></g>
<g id="n301"><use href="#h" class="hb" x="557" y="821"/></g>
<g id="n302"><use href="#c" class="b" x="280" y="854"/></g>
<g id="n303"><use href="#c" class="b" x="355" y="854"/></g>
<g id="n304"><use href="#c" class="b" x="436" y="879"/></g>
<g id="n305"><use href="#c" class="b" x="512" y="885"/></g>
<g id="n306"><use href="#c" class="b" x="591" y="875"/></g>
<g id="n307"><use href="#c" class="b" x="127" y="883"/></g>
<g id="n308"><use href="#c" class="b" x="204" y="887"/></g>
<g id="n309"><use href="#c" class="b" x="297" y="930"/></g>
<g id="n310"><use href="#c" class="b" x="375" y="930"/></g>
<g id="n311"><use href="#c" class="b" x="453" y="944"/></g>
<g id="n312"><use href="#c" class="b" x="535" y="948"/></g>
<g id="n313"><use href="#c" class="b" x="614" y="934"/></g>
<g id="n314"><use href="#c" class="b" x="142" y="964"/></g>
<g id="n315"><use href="#c" class="b" x="220" y="974"/></g>
<g id="n316"><use href="#c" class="b" x="297" y="1001"/></g>
<g id="n317"><use href="#c" class="b" x="376" y="998"/></g>
<g id="n318"><use href="#c" class="b" x="452" y="1006"/></g>
<g id="n319"><use href="#c" class="b" x="531" y="1010"/></g>
<g id="n320"><use href="#c" class="b" x="614" y="1005"/></g>
<g id="n321"><use href="#c" class="b" x="65" y="1042"/></g>
<g id="n322"><use href="#c" class="b" x="144" y="1052"/></g>
<g id="n323"><use href="#c" class="b" x="220" y="1051"/></g>
<g id="n324"><use href="#c" class="b" x="297" y="1073"/></g>
<g id="n325"><use href="#h" class="hb" x="375" y="1073"/></g>
<g id="n326"><use href="#c" class="b" x="451" y="1073"/></g>
<g id="n327"><use href="#c" class="b" x="525" y="1076"/></g>
<g id="n328"><use href="#c" class="b" x="604" y="1057"/></g>
<g id="n329"><use href="#c" class="b" x="64" y="1119"/></g>
<g id="n330"><use href="#c" class="b" x="142" y="1131"/></g>
<g id="n331"><use href="#c" class="b" x="220" y="1130"/></g>
<g id="n332"><use href="#c" class="b" x="294" y="1149"/></g>
<g id="n333"><use href="#c" class="b" x="367" y="1149"/></g>
<g id="n334"><use href="#h" class="hb" x="434" y="1150"/></g>
<g id="n335"><use href="#c" class="b" x="495" y="1144"/><text class="a" x="495" y="1171">*</text></g>
<g id="n336"><use href="#c" class="b" x="571" y="1135"/></g>
<g id="n337"><use href="#c" class="o" x="538" y="1195"/></g>
<g id="n338"><use href="#c" class="b" x="589" y="1214"/></g>
<g id="n339"><use href="#c" class="b" x="138" y="1208"/></g>
<g id="n340"><use href="#c" class="b" x="215" y="1207"/></g>
<g id="n341"><use href="#c" class="b" x="290" y="1227"/></g>
<g id="n342"><use href="#c" class="b" x="362" y="1227"/></g>
<g id="n343"><use href="#c" class="b" x="429" y="1228"/></g>
<g id="n344"><use href="#c" class="b" x="487" y="1244"/></g>
<g id="n345"><use href="#c" class="b" x="84" y="1280"/></g>
<g id="n346"><use href="#c" class="b" x="212" y="1280"/></g>
<g id="n347"><use href="#c" class="b" x="549" y="1271"/></g>
<g id="n348"><use href="#c" class="b" x="615" y="1273"/></g>
<g id="n349"><use href="#c" class="b" x="290" y="1303"/></g>
<g id="n350"><use href="#c" class="b" x="365" y="1303"/></g>
<g id="n351"><use href="#c" class="b" x="433" y="1305"/></g>
<g id="n352"><use href="#c" class="b" x="497" y="1323"/><text class="a" x="497" y="1350">*</text></g>
<g id="n353"><use href="#c" class="b" x="571" y="1340"/></g>
<g id="n354"><use href="#c" class="b" x="642" y="1332"/></g>
<g id="n355"><use href="#c" class="b" x="146" y="1364"/></g>
<g id="n356"><use href="#c" class="b" x="224" y="1374"/></g>
<g id="n357"><use href="#c" class="b" x="301" y="1381"/></g>
<g id="n358"><use href="#c" class="b" x="379" y="1382"/></g>
<g id="n359"><use href="#c" class="b" x="455" y="1384"/></g>
<g id="n360"><use href="#c" class="b" x="534" y="1400"/></g>
<g id="n361"><use href="#c" class="b" x="610" y="1403"/></g>
<g id="n362"><use href="#c" class="b" x="146" y="1447"/></g>
<g id="n363"><use href="#c" class="b" x="223" y="1452"/></g>
<g id="n364"><use href="#c" class="b" x="302" y="1457"/></g>
<g id="n365"><use href="#c" class="b" x="379" y="1459"/></g>
<g id="n366"><use href="#c" class="b" x="456" y="1462"/></g>
<g id="n367"><use href="#c" class="b" x="534" y="1473"/></g>
<g id="n368"><use href="#c" class="b" x="610" y="1479"/></g>
<g id="n369"><use href="#c" class="b" x="224" y="1529"/></g>
<g id="n370"><use href="#c" class="b" x="301" y="1536"/><text class="a" x="301" y="1563">*</text></g>
<g id="n371"><use href="#c" class="b" x="379" y="1537"/></g>
<g id="n372"><use href="#c" class="b" x="456" y="1538"/></g>
<g id="n373"><use href="#c" class="b" x="527" y="1545"/><text class="a" x="527" y="1572">*</text></g>
<g id="n374"><use href="#c" class="b" x="592" y="1555"/></g>
<g id="n375"><use href="#c" class="g" x="260" y="1614"/></g>
<g id="n376"><use href="#c" class="oo" x="338" y="1614"/><circle class="oi" cx="338" cy="1614" r="12"/></g>
<g id="n377"><use href="#c" class="b" x="417" y="1616"/></g>
<g id="n378"><use href="#c" class="b" x="471" y="1619"/><text class="a" x="471" y="1646">*</text></g>
<g id="n379"><use href="#c" class="b" x="549" y="1622"/></g>
<g id="n380"><use href="#c" class="b" x="635" y="1633"/></g>
<g id="n381"><use href="#c" class="b" x="324" y="1692"/><text class="a" x="324" y="1719">*</text></g>
<g id="n382"><use href="#h" class="hb" x="401" y="1696"/><text class="a" x="401" y="1723">*</text></g>
<g id="n383"><use href="#c" class="b" x="480" y="1697"/></g>
<g id="n384"><use href="#c" class="b" x="558" y="1699"/></g>
<g id="n385"><use href="#c" class="b" x="635" y="1710"/></g>
<g id="n386"><use href="#c" class="b" x="403" y="1773"/></g>
<g id="n387"><use href="#c" class="b" x="484" y="1774"/></g>
<g id="n388"><use href="#c" class="b" x="558" y="1784"/></g>
<g id="n389"><use href="#c" class="b" x="751" y="1305"/></g>
<g id="n390"><use href="#c" class="b" x="706" y="1343"/></g>
<g id="n391"><use href="#c" class="b" x="783" y="1355"/></g>
<g id="n392"><use href="#h" class="hb" x="1057" y="1281"/></g>
<g id="n393"><use href="#c" class="b" x="1154" y="1302"/></g>
<g id="n394"><use href="#c" class="b" x="1206" y="1292"/></g>
<g id="n395"><use href="#c" class="b" x="876" y="1329"/></g>
<g id="n396"><use href="#c" class="b" x="929" y="1330"/><text class="a" x="929" y="1357">*</text></g>
<g id="n397"><use href="#c" class="b" x="1000" y="1330"/></g>
<g id="n398"><use href="#c" class="b" x="1077" y="1358"/></g>
<g id="n399"><use href="#c" class="b" x="1148" y="1379"/></g>
<g id="n400"><use href="#c" class="b" x="1146" y="1433"/></g>
<g id="n401"><use href="#c" class="b" x="1220" y="1365"/></g>
<g id="n402"><use href="#c" class="b" x="687" y="1409"/></g>
<g id="n403"><use href="#c" class="b" x="755" y="1420"/></g>
<g id="n404"><use href="#c" class="b" x="831" y="1407"/></g>
<g id="n405"><use href="#c" class="b" x="893" y="1407"/></g>
<g id="n406"><use href="#c" class="b" x="956" y="1408"/></g>
<g id="n407"><use href="#c" class="b" x="1004" y="1444"/></g>
<g id="n408"><use href="#c" class="b" x="1018" y="1393"/></g>
<g id="n409"><use href="#c" class="b" x="1075" y="1442"/></g>
<g id="n410"><use href="#c" class="b" x="1221" y="1433"/></g>
<g id="n411"><use href="#c" class="b" x="664" y="1480"/></g>
<g id="n412"><use href="#c" class="b" x="736" y="1485"/></g>
<g id="n413"><use href="#c" class="b" x="812" y="1482"/></g>
<g id="n414"><use href="#c" class="b" x="878" y="1484"/></g>
<g id="n415"><use href="#c" class="b" x="943" y="1485"/></g>
<g id="n416"><use href="#c" class="b" x="1018" y="1521"/></g>
<g id="n417"><use href="#c" class="b" x="1081" y="1519"/></g>
<g id="n418"><use href="#c" class="b" x="1147" y="1509"/></g>
<g id="n419"><use href="#c" class="b" x="1214" y="1509"/></g>
<g id="n420"><use href="#c" class="r" x="658" y="1557"/><text class="a" x="658" y="1584">*</text></g>
<g id="n421"><use href="#c" class="b" x="727" y="1558"/></g>
<g id="n422"><use href="#c" class="b" x="800" y="1555"/></g>
<g id="n423"><use href="#c" class="b" x="873" y="1565"/><text class="a" x="873" y="1592">*</text></g>
<g id="n424"><use href="#c" class="b" x="951" y="1560"/></g>
<g id="n425"><use href="#c" class="b" x="1029" y="1599"/></g>
<g id="n426"><use href="#c" class="b" x="1110" y="1588"/></g>
<g id="n427"><use href="#c" class="b" x="1190" y="1585"/></g>
<g id="n428"><use href="#c" class="b" x="1264" y="1570"/><text class="a" x="1264" y="1597">*</text></g>
<g id="n429"><use href="#c" class="b" x="713" y="1633"/></g>
<g id="n430"><use href="#c" class="r" x="791" y="1632"/><text class="a" x="791" y="1659">*</text></g>
<g id="n431"><use href="#c" class="b" x="869" y="1633"/></g>
<g id="n432"><use href="#c" class="b" x="948" y="1628"/></g>
<g id="n433"><use href="#c" class="o" x="1004" y="1684"/></g>
<g id="n434"><use href="#c" class="b" x="1069" y="1680"/></g>
<g id="n435"><use href="#c" class="o" x="1132" y="1663"/></g>
<g id="n436"><use href="#c" class="b" x="1199" y="1663"/><text class="a" x="1199" y="1690">*</text></g>
<g id="n437"><use href="#c" class="b" x="1262" y="1646"/></g>
<g id="n438"><use href="#c" class="b" x="711" y="1710"/></g>
<g id="n439"><use href="#c" class="b" x="789" y="1710"/></g>
<g id="n440"><use href="#c" class="o" x="860" y="1710"/></g>
<g id="n441"><use href="#c" class="b" x="931" y="1705"/></g>
<g id="n442"><use href="#c" class="b" x="1004" y="1762"/></g>
<g id="n443"><use href="#c" class="b" x="1081" y="1758"/></g>
<g id="n444"><use href="#c" class="b" x="1160" y="1740"/></g>
<g id="n445"><use href="#c" class="b" x="1242" y="1739"/></g>
<g id="n446"><use href="#c" class="b" x="667" y="1806"/></g>
<g id="n447"><use href="#c" class="b" x="751" y="1787"/></g>
<g id="n448"><use href="#c" class="b" x="829" y="1786"/></g>
<g id="n449"><use href="#c" class="b" x="926" y="1783"/></g>
<g id="n450"><use href="#c" class="o" x="1004" y="1840"/></g>
<g id="n451"><use href="#c" class="b" x="1081" y="1836"/></g>
<g id="n452"><use href="#c" class="b" x="1160" y="1819"/></g>
<g id="n453"><use href="#c" class="b" x="1242" y="1818"/></g>
<g id="n454"><use href="#c" class="b" x="744" y="1864"/></g>
<g id="n455"><use href="#c" class="b" x="829" y="1864"/></g>
<g id="n456"><use href="#c" class="b" x="907" y="1861"/></g>
<g id="n457"><use href="#c" class="b" x="1328" y="1266"/></g>
<g id="n458"><use href="#c" class="b" x="1269" y="1289"/></g>
<g id="n459"><use href="#c" class="b" x="1289" y="1340"/></g>
<g id="n460"><use href="#c" class="b" x="1366" y="1342"/></g>
<g id="n461"><use href="#c" class="b" x="1435" y="1282"/></g>
<g id="n462"><use href="#c" class="b" x="1496" y="1278"/></g>
<g id="n463"><use href="#c" class="b" x="1561" y="1278"/></g>
<g id="n464"><use href="#c" class="b" x="1632" y="1278"/></g>
<g id="n465"><use href="#c" class="b" x="1709" y="1278"/></g>
<g id="n466"><use href="#c" class="b" x="1786" y="1273"/></g>
<g id="n467"><use href="#c" class="b" x="1442" y="1356"/></g>
<g id="n468"><use href="#c" class="b" x="1520" y="1355"/></g>
<g id="n469"><use href="#c" class="b" x="1598" y="1358"/><text class="a" x="1598" y="1385">*</text></g>
<g id="n470"><use href="#c" class="b" x="1676" y="1356"/></g>
<g id="n471"><use href="#c" class="b" x="1755" y="1356"/></g>
<g id="n472"><use href="#c" class="b" x="1295" y="1418"/></g>
<g id="n473"><use href="#c" class="b" x="1365" y="1418"/></g>
<g id="n474"><use href="#c" class="b" x="1441" y="1433"/><text class="a" x="1441" y="1460">*</text></g>
<g id="n475"><use href="#h" class="sh" x="1520" y="1434"/></g>
<g id="n476"><use href="#c" class="b" x="1596" y="1432"/></g>
<g id="n477"><use href="#c" class="b" x="1674" y="1434"/></g>
<g id="n478"><use href="#c" class="b" x="1287" y="1493"/></g>
<g id="n479"><use href="#c" class="b" x="1364" y="1495"/></g>
<g id="n480"><use href="#c" class="b" x="1346" y="1547"/></g>
<g id="n481"><use href="#c" class="b" x="1442" y="1509"/></g>
<g id="n482"><use href="#c" class="b" x="1518" y="1509"/></g>
<g id="n483"><use href="#c" class="b" x="1596" y="1509"/></g>
<g id="n484"><use href="#c" class="b" x="1732" y="1511"/></g>
<g id="n485"><use href="#c" class="b" x="1422" y="1586"/></g>
<g id="n486"><use href="#c" class="b" x="1500" y="1586"/></g>
<g id="n487"><use href="#c" class="b" x="1578" y="1586"/></g>
<g id="n488"><use href="#c" class="b" x="1655" y="1586"/></g>
<g id="n489"><use href="#c" class="b" x="1345" y="1624"/></g>
<g id="n490"><use href="#c" class="b" x="1422" y="1664"/></g>
<g id="n491"><use href="#c" class="b" x="1499" y="1664"/></g>
<g id="n492"><use href="#c" class="b" x="1577" y="1664"/></g>
<g id="n493"><use href="#c" class="b" x="1343" y="1702"/></g>
<g id="n494"><use href="#c" class="b" x="1422" y="1763"/></g>
<g id="n495"><use href="#c" class="b" x="1499" y="1741"/></g>
<g id="n496"><use href="#c" class="b" x="1316" y="1780"/></g>
<g id="n497"><use href="#c" class="b" x="1278" y="722"/><text class="a" x="1278" y="749">*</text></g>
<g id="n498"><use href="#c" class="b" x="1350" y="726"/></g>
<g id="n499"><use href="#c" class="b" x="1413" y="715"/></g>
<g id="n500"><use href="#c" class="b" x="1480" y="740"/><text class="a" x="1480" y="767">*</text></g>
<g id="n501"><use href="#c" class="b" x="1476" y="793"/></g>
<g id="n502"><use href="#c" class="b" x="1556" y="742"/></g>
<g id="n503"><use href="#c" class="b" x="1633" y="743"/></g>
<g id="n504"><use href="#c" class="b" x="1711" y="751"/></g>
<g id="n505"><use href="#c" class="b" x="1280" y="775"/></g>
<g id="n506"><use href="#c" class="b" x="1323" y="820"/></g>
<g id="n507"><use href="#c" class="b" x="1399" y="792"/></g>
<g id="n508"><use href="#c" class="b" x="1547" y="819"/></g>
<g id="n509"><use href="#h" class="hb" x="1624" y="819"/></g>
<g id="n510"><use href="#c" class="b" x="1701" y="830"/></g>
<g id="n511"><use href="#c" class="b" x="1398" y="866"/></g>
<g id="n512"><use href="#c" class="b" x="1451" y="870"/></g>
<g id="n513"><use href="#c" class="b" x="1468" y="922"/></g>
<g id="n514"><use href="#c" class="b" x="1307" y="928"/></g>
<g id="n515"><use href="#c" class="b" x="1384" y="938"/></g>
<g id="n516"><use href="#c" class="b" x="1546" y="894"/></g>
<g id="n517"><use href="#c" class="b" x="1624" y="895"/></g>
<g id="n518"><use href="#c" class="b" x="1779" y="896"/></g>
<g id="n519"><use href="#c" class="b" x="1546" y="972"/></g>
<g id="n520"><use href="#c" class="b" x="1624" y="972"/><text class="a" x="1624" y="999">*</text></g>
<g id="n521"><use href="#c" class="b" x="1701" y="968"/></g>
<g id="n522"><use href="#c" class="b" x="1779" y="976"/></g>
<g id="n523"><use href="#c" class="b" x="1291" y="1006"/></g>
<g id="n524"><use href="#c" class="b" x="1349" y="1011"/></g>
<g id="n525"><use href="#c" class="b" x="1410" y="1009"/></g>
<g id="n526"><use href="#c" class="b" x="1473" y="995"/></g>
<g id="n527"><use href="#c" class="b" x="1548" y="1049"/></g>
<g id="n528"><use href="#c" class="b" x="1624" y="1047"/></g>
<g id="n529"><use href="#c" class="b" x="1702" y="1044"/></g>
<g id="n530"><use href="#c" class="b" x="1782" y="1053"/></g>
<g id="n531"><use href="#c" class="b" x="1288" y="1103"/></g>
<g id="n532"><use href="#c" class="b" x="1340" y="1087"/><text class="a" x="1340" y="1114">*</text></g>
<g id="n533"><use href="#c" class="b" x="1418" y="1086"/></g>
<g id="n534"><use href="#c" class="b" x="1471" y="1072"/></g>
<g id="n535"><use href="#c" class="b" x="1552" y="1125"/></g>
<g id="n536"><use href="#c" class="b" x="1628" y="1125"/></g>
<g id="n537"><use href="#c" class="o" x="1705" y="1119"/></g>
<g id="n538"><use href="#c" class="b" x="1285" y="1150"/></g>
<g id="n539"><use href="#c" class="b" x="1486" y="1140"/></g>
<g id="n540"><use href="#c" class="b" x="1411" y="1163"/></g>
<g id="n541"><use href="#c" class="b" x="1457" y="1206"/></g>
<g id="n542"><use href="#c" class="b" x="1335" y="1188"/></g>
<g id="n543"><use href="#c" class="b" x="1281" y="1200"/></g>
<g id="n544"><use href="#c" class="b" x="1552" y="1202"/></g>
<g id="n545"><use href="#c" class="b" x="1630" y="1201"/></g>
<g id="n546"><use href="#c" class="b" x="1707" y="1201"/></g>
<g id="n547"><use href="#c" class="b" x="1385" y="1240"/></g>
</g>
<g id="legend">
<g id="leg-droplet"><circle cx="2017" cy="123" r="26" fill="#D97A8B" stroke="#B8A3AC" stroke-width="2"/>
<text class="t" x="2081" y="143">Droplet drivers, pLLPS score ≥ 0.60</text>
<text class="s" x="2090" y="245">Ribosomal protein L11;</text>
<text class="s" x="2089" y="337">CbpA, IHF, ProQ, PurL, RsxC, RNE, SSB</text></g>
<g id="leg-cat"><circle cx="2017" cy="502" r="26" fill="#BEBEBE" stroke="#9C9CAA" stroke-width="2"/>
<text class="t" x="2089" y="520">catGRANULE score ≥ 1.50</text>
<text class="s" x="2097" y="630">Ribosomal proteins: L2, L15, L27;</text>
<text class="s" x="2097" y="721">SSB, DnaJ, LamB, SlyD, Tsx</text></g>
<g id="leg-psp"><circle cx="2017" cy="901" r="26" fill="#FDE3C9" stroke="#A9A9A9" stroke-width="2"/>
<text class="t" x="2081" y="923">PSPredictor score ≥ 0.50</text>
<text class="s" x="2081" y="1041">Ribosomal proteins: L27, S11;</text>
<text class="s" x="2081" y="1133">CarB, DnaX, FabF, FusA, GcsP, HelD, HtrA,</text>
<text class="s" x="2081" y="1224">HisP, LamB, RlhA, SbcP, SSB,Tsx</text></g>
<g id="leg-vxlt"><polygon points="1973,1398 1989,1369 2021,1369 2037,1398 2021,1427 1989,1427" fill="#fff" stroke="#777" stroke-width="2"/>
<text class="t" x="2074" y="1418">VXLT <tspan font-style="italic">Overall Percent Disorder</tspan>ed ≥ 60%</text>
<text class="s" x="2089" y="1513">Ribosomal proteins:</text>
<text class="s" x="2089" y="1604">S4, S7, S12, S13, S14, S15, S21, L2;</text>
<text class="s" x="2089" y="1695">H-NS, IhfA, MreB, RNE, SSB, ZapD</text></g>
<g id="leg-plaac"><polygon points="2021,1779 2064,1858 1978,1858" fill="#fff" stroke="#666" stroke-width="2"/>
<text class="t" x="2089" y="1856">PLAAC, prion-like sequences</text>
<text class="s" x="2101" y="1957">SSB</text></g>
<g id="leg-tango"><line x1="265" y1="2125" x2="307" y2="2139" stroke="#555" stroke-width="2"/><line x1="344" y1="2136" x2="381" y2="2117" stroke="#555" stroke-width="2"/><line x1="336" y1="2162" x2="366" y2="2210" stroke="#555" stroke-width="2"/>
<circle cx="246" cy="2119" r="20" fill="#fff" stroke="#7B8494" stroke-width="2"/><circle cx="326" cy="2145" r="20" fill="#fff" stroke="#7B8494" stroke-width="2"/>
<text class="t" x="420" y="2152">Interactions between APRs predicted by TANGO</text></g>
<g id="leg-disprot"><text x="2019" y="2170" font-family="Liberation Sans, Arial, sans-serif" font-weight="bold" font-size="90" text-anchor="middle" fill="#000">*</text>
<text class="t" x="2100" y="2152">DisProt database (see Table S2)</text></g>
</g>
</svg>
